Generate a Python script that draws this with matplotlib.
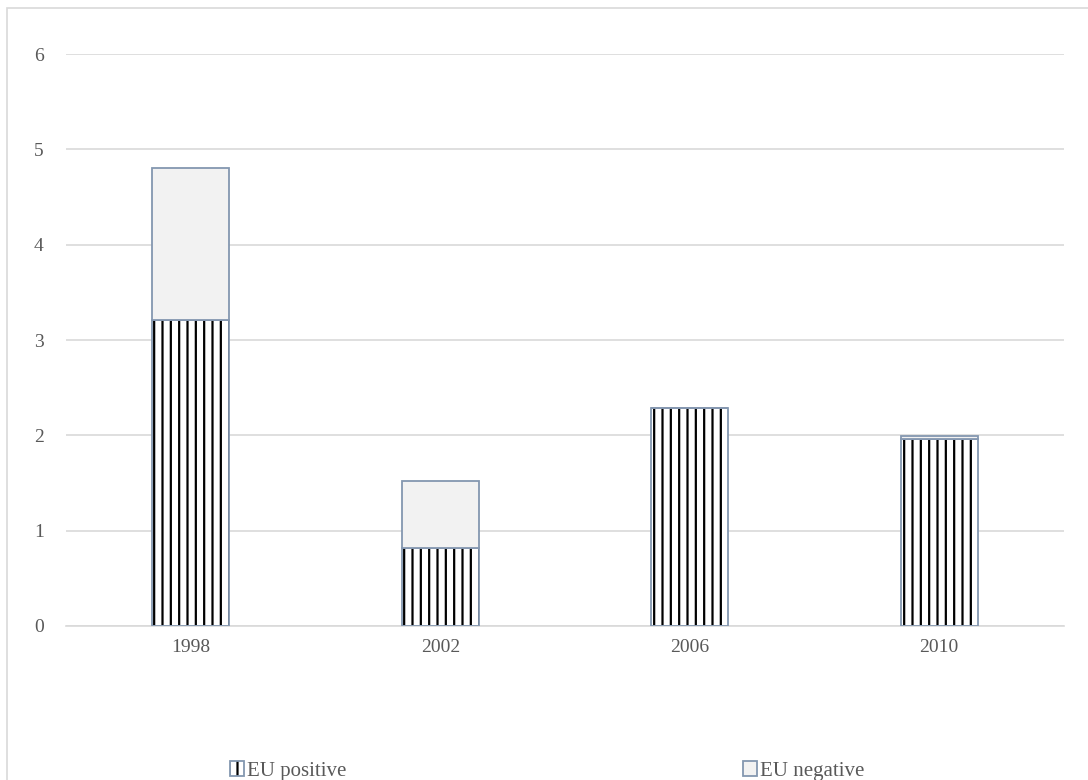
"""Stacked bar chart of EU positive / negative counts by election year."""

import matplotlib

matplotlib.use("Agg", force=True)

import matplotlib.pyplot as plt
import numpy as np
from matplotlib.legend_handler import HandlerPatch
from matplotlib.patches import Patch, Rectangle

years = ["1998", "2002", "2006", "2010"]
eu_positive = [3.21, 0.82, 2.29, 1.96]
eu_negative = [1.59, 0.70, 0.00, 0.03]
y_ticks = [0, 1, 2, 3, 4, 5, 6]

plt.rcParams["font.family"] = ["Liberation Serif", "DejaVu Serif"]
plt.rcParams["hatch.linewidth"] = 1.6

edge = "#8497B0"
grid = "#D9D9D9"
text = "#595959"

fig = plt.figure(figsize=(10.88, 7.8), dpi=100)
ax = fig.add_axes([66 / 1088, 1 - 626 / 780, (1064 - 66) / 1088, (626 - 54) / 780])

x = np.arange(len(years))
width = 0.31
# hatched fill first (black stripes), outline drawn on top in the series colour
ax.bar(x, eu_positive, width, color="white", edgecolor="black", hatch="||",
       linewidth=0, zorder=2)
ax.bar(x, eu_positive, width, fill=False, edgecolor=edge, linewidth=1.3,
       zorder=3, label="EU positive")
ax.bar(x, eu_negative, width, bottom=eu_positive, color="#F2F2F2",
       edgecolor=edge, linewidth=1.3, label="EU negative", zorder=3)

ax.set_xlim(-0.5, len(years) - 0.5)
ax.set_ylim(0, 6)
ax.set_xticks(x, years)
ax.set_yticks(y_ticks)
ax.tick_params(length=0, labelsize=14, colors=text)
ax.tick_params(axis="x", pad=9)
ax.tick_params(axis="y", pad=16)
ax.yaxis.grid(True, color=grid, linewidth=1.2, zorder=0)
ax.set_axisbelow(True)
for side in ("top", "right", "left"):
    ax.spines[side].set_visible(False)
ax.spines["bottom"].set_color(grid)
ax.spines["bottom"].set_linewidth(1.2)


class OutlinedHatch(HandlerPatch):
    """Legend key: black stripes with a coloured border."""

    def create_artists(self, legend, orig_handle, xdescent, ydescent,
                       width, height, fontsize, trans):
        stripes = Rectangle((-xdescent, -ydescent), width, height,
                            facecolor="white", edgecolor="black", hatch="||",
                            linewidth=0, transform=trans)
        border = Rectangle((-xdescent, -ydescent), width, height, fill=False,
                           edgecolor=edge, linewidth=1.3, transform=trans)
        return [stripes, border]


pos_key = Patch(facecolor="white", edgecolor=edge, label="EU positive")
neg_key = Patch(facecolor="#F2F2F2", edgecolor=edge, linewidth=1.3, label="EU negative")
fig.legend(handles=[pos_key, neg_key], loc="center",
           bbox_to_anchor=(0.503, 1 - 771 / 780), ncol=2, frameon=False,
           fontsize=15, handlelength=0.7, handleheight=0.7, handletextpad=0.15,
           columnspacing=19, labelcolor=text,
           handler_map={pos_key: OutlinedHatch()})

# light frame round the whole chart area
fig.patches.append(Rectangle((7 / 1088, -0.01), 1.0, 1 - 8 / 780 + 0.01,
                             transform=fig.transFigure, fill=False,
                             edgecolor=grid, linewidth=1.2))

fig.savefig("out.png", dpi=100)
